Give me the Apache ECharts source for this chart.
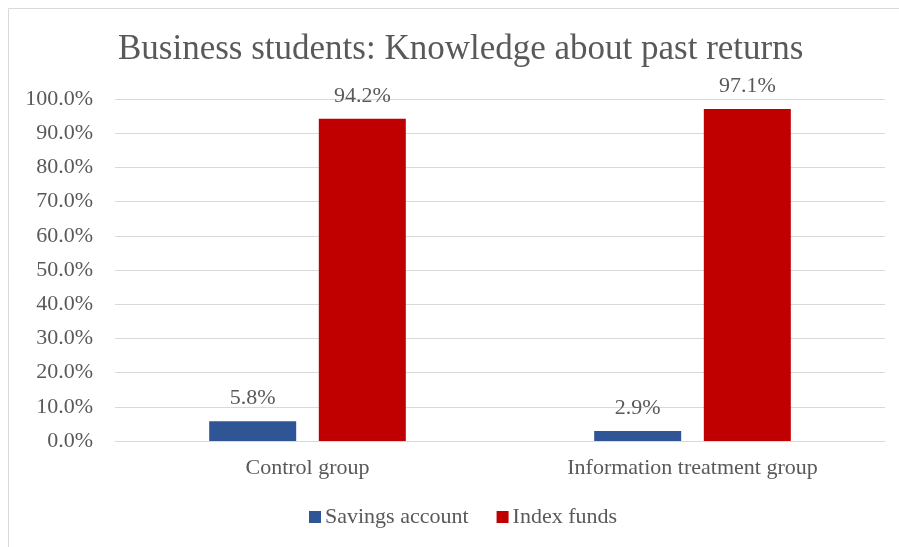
<!DOCTYPE html>
<html><head><meta charset="utf-8">
<script src="https://cdn.jsdelivr.net/npm/echarts@6/dist/echarts.min.js"></script>
<style>html,body{margin:0;padding:0;background:#fff}#c{width:899px;height:547px}</style>
</head><body><div id="c"></div>
<script>
const categories = ['Control group', 'Information treatment group'];
const savingsAccount = [5.8, 2.9];
const indexFunds = [94.2, 97.1];
const seriesNames = ['Savings account', 'Index funds'];
const titleText = 'Business students: Knowledge about past returns';

const FONT = '"Liberation Serif", "Times New Roman", serif';
const TXT = '#595959';
const chart = echarts.init(document.getElementById('c'), null, {renderer: 'canvas'});
const lbl = {show: true, position: 'top', distance: 12, color: TXT, fontFamily: FONT, fontSize: 22,
  formatter: p => p.value.toFixed(1) + '%'};
chart.setOption({
  animation: false,
  graphic: [{type: 'rect', shape: {x: 8.5, y: 8.5, width: 900, height: 545},
    style: {fill: 'none', stroke: '#d9d9d9', lineWidth: 1}, z: -1}],
  title: {text: titleText, left: 113, top: 27,
    textStyle: {fontFamily: FONT, fontSize: 35, fontWeight: 'normal', color: TXT}},
  grid: {left: 115, right: 14, top: 99, bottom: 106, containLabel: false},
  legend: {bottom: 14, left: 304, itemWidth: 12, itemHeight: 12, itemGap: 28,
    icon: 'rect', textStyle: {fontFamily: FONT, fontSize: 22, color: TXT, padding: [0, 0, 0, -1]},
    data: seriesNames},
  xAxis: {type: 'category', data: categories,
    axisLine: {lineStyle: {color: '#d9d9d9', width: 1}}, axisTick: {show: false},
    axisLabel: {color: TXT, fontFamily: FONT, fontSize: 22, margin: 16}},
  yAxis: {type: 'value', min: 0, max: 100, interval: 10,
    axisLine: {show: false}, axisTick: {show: false},
    splitLine: {lineStyle: {color: '#d9d9d9', width: 1}},
    axisLabel: {color: TXT, fontFamily: FONT, fontSize: 22, margin: 22,
      formatter: v => v.toFixed(1) + '%'}},
  series: [
    {name: seriesNames[0], type: 'bar', data: savingsAccount, barWidth: 87, barGap: '26%',
      itemStyle: {color: '#2F5597'}, label: lbl},
    {name: seriesNames[1], type: 'bar', data: indexFunds, barWidth: 87,
      itemStyle: {color: '#C00000'}, label: lbl}
  ]
});
</script></body></html>
